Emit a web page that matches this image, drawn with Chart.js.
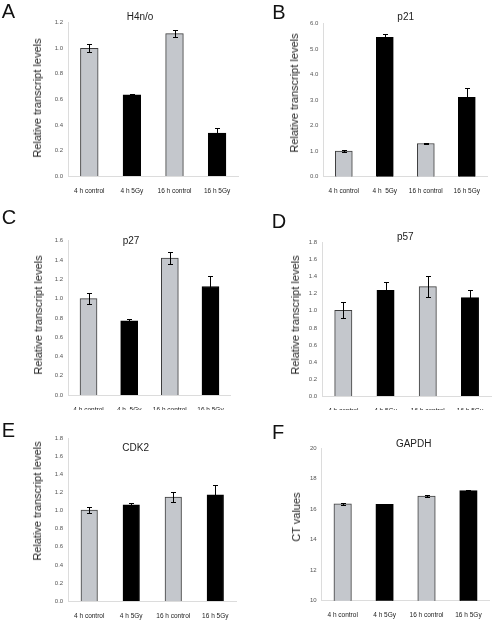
<!DOCTYPE html>
<html><head><meta charset="utf-8">
<script src="https://cdn.jsdelivr.net/npm/chart.js@4.4.1/dist/chart.umd.min.js"></script>
<style>
html,body{margin:0;padding:0;background:#fff;}
#fig{position:relative;width:497px;height:624px;overflow:hidden;font-family:"Liberation Sans",Arial,sans-serif;}
#fig canvas{position:absolute;}
.t{position:absolute;transform:translate(-50%,-50%);white-space:nowrap;color:#222;font-size:10px;}
.yt{position:absolute;transform:translate(-50%,-50%) rotate(-90deg);white-space:nowrap;color:#222;font-size:11px;}
.lt{position:absolute;transform:translate(-50%,-50%);font-size:20px;color:#111;line-height:1;}
</style></head><body><div id="fig"></div>
<script>
// ---- data ----
const categories  = ['4 h control', '4 h 5Gy', '16 h control', '16 h 5Gy'];
const categoriesB = ['4 h control', '4 h  5Gy', '16 h control', '16 h 5Gy'];

const h4Values    = [1.00, 0.635, 1.115, 0.335];
const h4Errors    = [0.03, 0.01, 0.025, 0.04];
const p21Values   = [1.00, 5.45, 1.30, 3.10];
const p21Errors   = [0.05, 0.15, 0.03, 0.38];
const p27Values   = [1.00, 0.77, 1.42, 1.125];
const p27Errors   = [0.06, 0.02, 0.065, 0.105];
const p57Values   = [1.005, 1.24, 1.285, 1.155];
const p57Errors   = [0.095, 0.095, 0.12, 0.09];
const cdk2Values  = [1.005, 1.065, 1.15, 1.175];
const cdk2Errors  = [0.03, 0.02, 0.055, 0.105];
const gapdhValues = [16.35, 16.32, 16.87, 17.22];
const gapdhErrors = [0.05, 0.03, 0.04, 0.07];

// y-axis tick ranges [min, max, step]
const h4Axis    = [0, 1.2, 0.2];
const p21Axis   = [0, 6.0, 1.0];
const p27Axis   = [0, 1.6, 0.2];
const p57Axis   = [0, 1.8, 0.2];
const cdk2Axis  = [0, 1.8, 0.2];
const gapdhAxis = [10, 20, 2];

// ---- layout / styles ----
const GREY = '#c4c7cc', GREY_EDGE = '#3c3c3c', BLACK = '#000';
const panels = [
  {letter:'A', title:'H4n/o', ytitle:'Relative transcript levels', labels:categories,  vals:h4Values,  errs:h4Errors,  axis:h4Axis,  dec:1,
   box:[0,0,248,200],   area:[68,238.4,22.7,176],  bar:17.7, lpos:[8.5,11],  tpos:[140,16],   ypos:[37,98]},
  {letter:'B', title:'p21',   ytitle:'Relative transcript levels', labels:categoriesB, vals:p21Values, errs:p21Errors, axis:p21Axis, dec:1,
   box:[248,0,249,200], area:[75.3,239.3,23.3,176.7], bar:17, lpos:[279,12], tpos:[405.7,16], ypos:[294,93]},
  {letter:'C', title:'p27',   ytitle:'Relative transcript levels', labels:categoriesB, vals:p27Values, errs:p27Errors, axis:p27Axis, dec:1,
   box:[0,200,248,210], area:[68.2,230.8,40.7,195], bar:17,   lpos:[9,217],   tpos:[131,240],  ypos:[38,315]},
  {letter:'D', title:'p57',   ytitle:'Relative transcript levels', labels:categories,  vals:p57Values, errs:p57Errors, axis:p57Axis, dec:1,
   box:[248,200,249,210], area:[74.2,243.1,42.7,196], bar:17.3, lpos:[279,221], tpos:[405.3,236], ypos:[295,315]},
  {letter:'E', title:'CDK2',  ytitle:'Relative transcript levels', labels:categories,  vals:cdk2Values, errs:cdk2Errors, axis:cdk2Axis, dec:1,
   box:[0,410,248,214], area:[68.2,236.3,28.3,191], bar:16.5, lpos:[8.5,430], tpos:[135.7,446.7], ypos:[37,501]},
  {letter:'F', title:'GAPDH', ytitle:'CT values',                  labels:categories,  vals:gapdhValues, errs:gapdhErrors, axis:gapdhAxis, dec:0,
   box:[248,410,249,214], area:[73.7,241.4,38.3,190.7], bar:17.5, lpos:[278,431.5], tpos:[413.7,443.3], ypos:[296.3,517]}
];

const errorBars = {
  id:'errorBars',
  afterDatasetsDraw(chart){
    const ctx = chart.ctx, ys = chart.scales.y;
    const ds = chart.data.datasets[0];
    const meta = chart.getDatasetMeta(0);
    ctx.save();
    ctx.strokeStyle = '#000'; ctx.lineWidth = 1;
    meta.data.forEach((bar, i) => {
      const x = Math.round(bar.x) + 0.5;
      const yt = Math.round(ys.getPixelForValue(ds.data[i] + ds.errors[i])) + 0.5;
      const yb = Math.round(ys.getPixelForValue(ds.data[i] - ds.errors[i])) + 0.5;
      ctx.beginPath();
      ctx.moveTo(x, yt); ctx.lineTo(x, yb);
      ctx.moveTo(x - 2.5, yt); ctx.lineTo(x + 2.5, yt);
      ctx.moveTo(x - 2.5, yb); ctx.lineTo(x + 2.5, yb);
      ctx.stroke();
    });
    ctx.restore();
  }
};

const fig = document.getElementById('fig');
function addText(cls, txt, x, y){
  const d = document.createElement('div');
  d.className = cls; d.textContent = txt;
  d.style.left = x + 'px'; d.style.top = y + 'px';
  fig.appendChild(d);
}

panels.forEach(p => {
  const [bx, by, bw, bh] = p.box;
  const [al, ar, at, ab] = p.area;
  const cv = document.createElement('canvas');
  cv.width = bw; cv.height = bh;
  cv.style.left = bx + 'px'; cv.style.top = by + 'px';
  cv.style.width = bw + 'px'; cv.style.height = bh + 'px';
  fig.appendChild(cv);
  const colors = p.vals.map((v, i) => i % 2 === 0 ? GREY : BLACK);
  const edges  = p.vals.map((v, i) => i % 2 === 0 ? GREY_EDGE : BLACK);
  new Chart(cv, {
    type:'bar',
    data:{ labels:p.labels, datasets:[{ data:p.vals, errors:p.errs, backgroundColor:colors, borderColor:edges, borderWidth:1, barThickness:p.bar }] },
    options:{
      responsive:false, animation:false, devicePixelRatio:1,
      layout:{ padding:{ left:0, top:at, right:bw - ar, bottom:0 } },
      plugins:{ legend:{display:false}, tooltip:{enabled:false}, title:{display:false} },
      scales:{
        x:{
          offset:true,
          grid:{display:false, drawTicks:false},
          border:{display:true, color:'#dcdcdc', width:1},
          ticks:{ autoSkip:false, maxRotation:0, minRotation:0, padding:11, color:'#222',
                  font:{family:'"Liberation Sans", Arial, sans-serif', size:6.5} },
          afterFit(s){ s.height = bh - ab; }
        },
        y:{
          min:p.axis[0], max:p.axis[1],
          grid:{display:false, drawTicks:false},
          border:{display:true, color:'#dcdcdc', width:1},
          ticks:{ stepSize:p.axis[2], padding:5, color:'#555',
                  font:{family:'"Liberation Sans", Arial, sans-serif', size:6},
                  callback:(v) => Number(v).toFixed(p.dec) },
          afterFit(s){ s.width = al; }
        }
      }
    },
    plugins:[errorBars]
  });
  addText('lt', p.letter, p.lpos[0], p.lpos[1]);
  addText('t', p.title, p.tpos[0], p.tpos[1]);
  addText('yt', p.ytitle, p.ypos[0], p.ypos[1]);
});
</script>
</body></html>
